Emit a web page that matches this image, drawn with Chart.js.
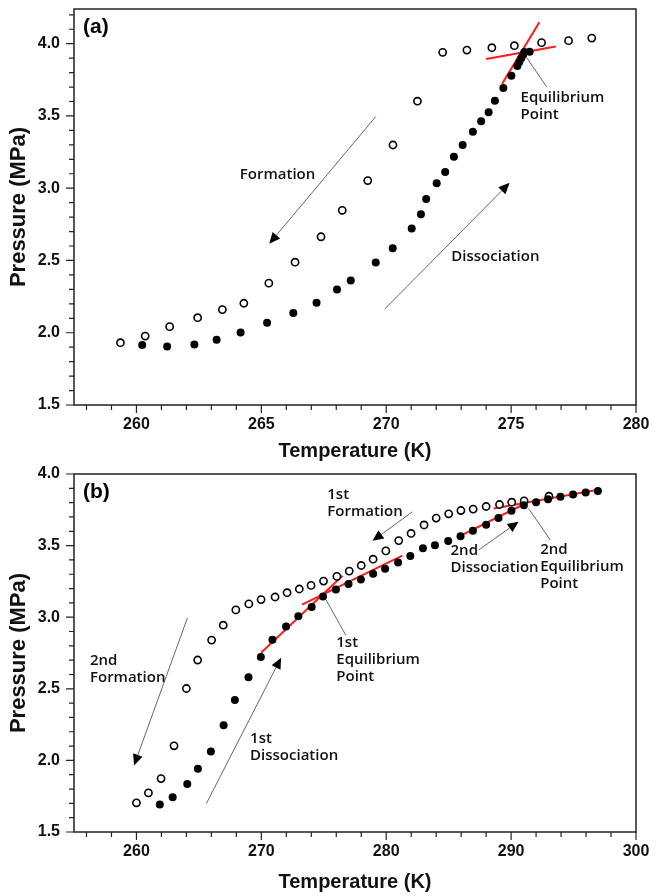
<!DOCTYPE html>
<html>
<head>
<meta charset="utf-8">
<script src="https://cdn.jsdelivr.net/npm/chart.js@4.4.1/dist/chart.umd.min.js"></script>
<style>
  body { margin: 0; background: #fff; }
  canvas { position: absolute; left: 0; display: block; }
  #ca { top: 0; }
  #cb { top: 460px; }
</style>
</head>
<body>
<canvas id="ca" width="665" height="470"></canvas>
<canvas id="cb" width="665" height="436"></canvas>
<script>
// ---- panel (a) ----
const tempFormA = [259.36, 260.35, 261.33, 262.45, 263.44, 264.30, 265.30, 266.35, 267.39, 268.24,
  269.26, 270.27, 271.25, 272.26, 273.23, 274.23, 275.13, 276.22, 277.30, 278.23];
const presFormA = [1.931, 1.977, 2.042, 2.104, 2.160, 2.204, 2.343, 2.488, 2.664, 2.847,
  3.053, 3.299, 3.602, 3.940, 3.956, 3.972, 3.986, 4.007, 4.021, 4.039];
const tempDissA = [260.23, 261.23, 262.32, 263.21, 264.17, 265.23, 266.28, 267.21, 268.03, 268.58,
  269.58, 270.26, 271.02, 271.39, 271.60, 272.02, 272.36, 272.71, 273.06, 273.47,
  273.80, 274.10, 274.35, 274.69, 275.01, 275.25, 275.33, 275.41, 275.48, 275.53, 275.74];
const presDissA = [1.915, 1.905, 1.919, 1.951, 2.002, 2.069, 2.137, 2.208, 2.299, 2.361,
  2.486, 2.585, 2.722, 2.819, 2.926, 3.035, 3.113, 3.218, 3.299, 3.391,
  3.463, 3.526, 3.606, 3.694, 3.778, 3.845, 3.873, 3.901, 3.924, 3.942, 3.944];
// tangent lines: [T1, P1, T2, P2]
const tangentsA = [[274.64, 3.722, 276.13, 4.148], [274.0, 3.894, 276.79, 3.981]];

// ---- panel (b) ----
const tempFormB = [260.0, 260.96, 261.97, 263.01, 264.0, 264.9, 266.02, 266.95, 267.96, 269.0,
  269.98, 271.1, 272.06, 273.04, 273.98, 274.98, 276.05, 277.04, 278.0, 278.95,
  279.97, 281.0, 281.99, 283.03, 284.0, 285.0, 285.98, 286.96, 288.0, 289.07,
  290.05, 291.04, 293.03];
const presFormB = [1.704, 1.773, 1.873, 2.102, 2.502, 2.701, 2.840, 2.944, 3.051, 3.093,
  3.123, 3.141, 3.171, 3.197, 3.222, 3.252, 3.285, 3.322, 3.361, 3.405,
  3.463, 3.535, 3.585, 3.644, 3.692, 3.722, 3.745, 3.755, 3.773, 3.787,
  3.803, 3.812, 3.845];
const tempDissB = [261.87, 262.9, 264.07, 264.92, 265.96, 266.98, 267.88, 268.97, 269.96, 270.89,
  271.98, 272.96, 274.03, 274.94, 275.97, 276.98, 277.97, 278.95, 279.91, 280.95,
  281.93, 282.94, 283.9, 284.96, 285.95, 286.94, 288.0, 288.99, 290.03, 291.02,
  292.0, 292.96, 293.95, 294.96, 295.97, 296.95];
const presDissB = [1.692, 1.743, 1.835, 1.942, 2.063, 2.245, 2.421, 2.581, 2.722, 2.842,
  2.935, 3.007, 3.072, 3.144, 3.194, 3.231, 3.264, 3.303, 3.338, 3.382,
  3.428, 3.481, 3.502, 3.532, 3.565, 3.604, 3.646, 3.692, 3.743, 3.782,
  3.803, 3.824, 3.842, 3.856, 3.870, 3.882];
const tangentsB = [[269.98, 2.752, 276.5, 3.29], [273.26, 3.088, 281.29, 3.43],
  [285.8, 3.563, 291.14, 3.794], [288.6, 3.759, 296.73, 3.887]];

const AXIS_FONT = 'Liberation Sans, Arial, sans-serif';
const NOTE_FONT = 'Open Sans, Noto Sans, sans-serif';

// annotations in data units
const notesA = {
  tag: '(a)',
  arrows: [[269.58, 3.495, 265.32, 2.616, true], [269.94, 2.164, 274.94, 3.037, true],
           [275.61, 3.907, 276.43, 3.699, false]],
  texts: [[265.65, 3.095, ['Formation'], 'center'], [274.37, 2.523, ['Dissociation'], 'center'],
          [275.38, 3.627, ['Equilibrium', 'Point'], 'left']]
};
const notesB = {
  tag: '(b)',
  arrows: [[282.09, 3.736, 278.9, 3.533, true], [264.08, 2.995, 259.81, 1.965, true],
           [265.6, 1.699, 271.58, 2.717, true], [275.17, 3.123, 276.77, 2.873, false],
           [287.41, 3.47, 290.6, 3.667, true], [291.4, 3.759, 293.14, 3.539, false]],
  texts: [[275.28, 3.854, ['1st', 'Formation'], 'left'], [256.28, 2.694, ['2nd', 'Formation'], 'left'],
          [269.1, 2.153, ['1st', 'Dissociation'], 'left'], [276.0, 2.822, ['1st', 'Equilibrium', 'Point'], 'left'],
          [285.15, 3.463, ['2nd', 'Dissociation'], 'left'], [292.33, 3.468, ['2nd', 'Equilibrium', 'Point'], 'left']]
};

function pts(xs, ys) { return xs.map((x, i) => ({x: x, y: ys[i]})); }
function isMult(v, s) { return Math.abs(v / s - Math.round(v / s)) < 1e-6; }
function stepTicks(s, step) {
  const out = [];
  for (let n = Math.ceil(s.min / step - 1e-9); n <= Math.floor(s.max / step + 1e-9); n++) {
    out.push({value: +(n * step).toFixed(6)});
  }
  s.ticks = out;
}

const framePlugin = {
  id: 'frame',
  afterDatasetsDraw(chart, args, o) {
    const ctx = chart.ctx, a = chart.chartArea, xs = chart.scales.x, ys = chart.scales.y;
    ctx.save();
    ctx.strokeStyle = '#222';
    ctx.lineWidth = 1.5;
    ctx.strokeRect(a.left, a.top, a.right - a.left, a.bottom - a.top);
    ctx.lineWidth = 1.2;
    ctx.beginPath();
    for (let n = Math.ceil(xs.min / o.xMinor - 1e-6); n <= Math.floor(xs.max / o.xMinor + 1e-6); n++) {
      const v = n * o.xMinor, p = xs.getPixelForValue(v);
      const len = isMult(v, o.xMajor) ? 8 : 5;
      ctx.moveTo(p, a.bottom); ctx.lineTo(p, a.bottom + len);
    }
    for (let n = Math.ceil(ys.min / 0.1 - 1e-6); n <= Math.floor(ys.max / 0.1 + 1e-6); n++) {
      const v = n * 0.1, p = ys.getPixelForValue(v);
      const len = isMult(v, 0.5) ? 8 : 5;
      ctx.moveTo(a.left, p); ctx.lineTo(a.left - len, p);
    }
    ctx.stroke();

    // arrows and leader lines
    const nt = o.notes;
    nt.arrows.forEach(([t1, p1, t2, p2, head]) => {
      const x1 = xs.getPixelForValue(t1), y1 = ys.getPixelForValue(p1);
      const x2 = xs.getPixelForValue(t2), y2 = ys.getPixelForValue(p2);
      const ang = Math.atan2(y2 - y1, x2 - x1), L = 11, W = 5;
      ctx.strokeStyle = '#666';
      ctx.lineWidth = 1;
      ctx.beginPath();
      ctx.moveTo(x1, y1);
      ctx.lineTo(head ? x2 - L * Math.cos(ang) : x2, head ? y2 - L * Math.sin(ang) : y2);
      ctx.stroke();
      if (head) {
        ctx.fillStyle = '#000';
        ctx.beginPath();
        ctx.moveTo(x2, y2);
        ctx.lineTo(x2 - L * Math.cos(ang) + W * Math.sin(ang), y2 - L * Math.sin(ang) - W * Math.cos(ang));
        ctx.lineTo(x2 - L * Math.cos(ang) - W * Math.sin(ang), y2 - L * Math.sin(ang) + W * Math.cos(ang));
        ctx.closePath();
        ctx.fill();
      }
    });

    ctx.fillStyle = '#111';
    ctx.font = '600 15px ' + NOTE_FONT;
    ctx.textBaseline = 'middle';
    nt.texts.forEach(([t, p, lines, align]) => {
      ctx.textAlign = align;
      const x = xs.getPixelForValue(t), y0 = ys.getPixelForValue(p);
      lines.forEach((s, i) => ctx.fillText(s, x, y0 + i * 17));
    });

    ctx.fillStyle = '#000';
    ctx.font = 'bold 21px ' + AXIS_FONT;
    ctx.textAlign = 'left';
    ctx.fillText(nt.tag, a.left + 9, a.top + 18);
    ctx.restore();
  }
};

function makeChart(id, o) {
  const datasets = [
    {data: pts(o.tD, o.pD), pointRadius: 4, pointBackgroundColor: '#000', pointBorderColor: '#000',
     pointBorderWidth: 0, showLine: false},
    {data: pts(o.tF, o.pF), pointRadius: 3.6, pointBackgroundColor: '#fff', pointBorderColor: '#000',
     pointBorderWidth: 1.6, showLine: false}
  ];
  o.tangents.forEach(l => datasets.push({
    data: [{x: l[0], y: l[1]}, {x: l[2], y: l[3]}], showLine: true, pointRadius: 0,
    borderColor: '#ff1a1a', borderWidth: 2
  }));
  return new Chart(document.getElementById(id), {
    type: 'scatter',
    data: {datasets: datasets},
    options: {
      responsive: false,
      devicePixelRatio: 1,
      animation: false,
      layout: {padding: {top: o.padTop, right: 29, left: 0, bottom: 0}},
      plugins: {legend: {display: false}, tooltip: {enabled: false},
        frame: {xMinor: o.xMinor, xMajor: o.xMajor, notes: o.notes}},
      scales: {
        x: {
          type: 'linear', min: o.xMin, max: o.xMax,
          afterBuildTicks: s => stepTicks(s, o.xMajor),
          afterFit: s => { s.height = o.xH; s.paddingLeft = 0; s.paddingRight = 0; },
          grid: {display: false, drawTicks: false}, border: {display: false},
          ticks: {padding: 10, autoSkip: false, maxRotation: 0, color: '#111',
            font: {family: AXIS_FONT, size: 16, weight: 'bold'}, callback: v => v.toFixed(0)},
          title: {display: true, text: 'Temperature (K)', color: '#111',
            font: {family: AXIS_FONT, size: 20, weight: 'bold'}, padding: {top: 0, bottom: o.titlePad}}
        },
        y: {
          type: 'linear', min: 1.5, max: o.yMax,
          afterBuildTicks: s => stepTicks(s, 0.5),
          afterFit: s => { s.width = 74; s.paddingTop = 0; s.paddingBottom = 0; },
          grid: {display: false, drawTicks: false}, border: {display: false},
          ticks: {padding: 14, color: '#111',
            font: {family: AXIS_FONT, size: 16, weight: 'bold'}, callback: v => v.toFixed(1)},
          title: {display: true, text: 'Pressure (MPa)', color: '#111',
            font: {family: AXIS_FONT, size: 22, weight: 'bold'}, padding: {top: 6, bottom: 0}}
        }
      }
    },
    plugins: [framePlugin]
  });
}

makeChart('ca', {tF: tempFormA, pF: presFormA, tD: tempDissA, pD: presDissA, tangents: tangentsA,
  xMin: 257.5, xMax: 280, xMajor: 5, xMinor: 1, yMax: 4.24, padTop: 9, xH: 65, titlePad: 7, notes: notesA});
makeChart('cb', {tF: tempFormB, pF: presFormB, tD: tempDissB, pD: presDissB, tangents: tangentsB,
  xMin: 255, xMax: 300, xMajor: 10, xMinor: 2, yMax: 4.0, padTop: 14, xH: 64, titlePad: 2, notes: notesB});
</script>
</body>
</html>
